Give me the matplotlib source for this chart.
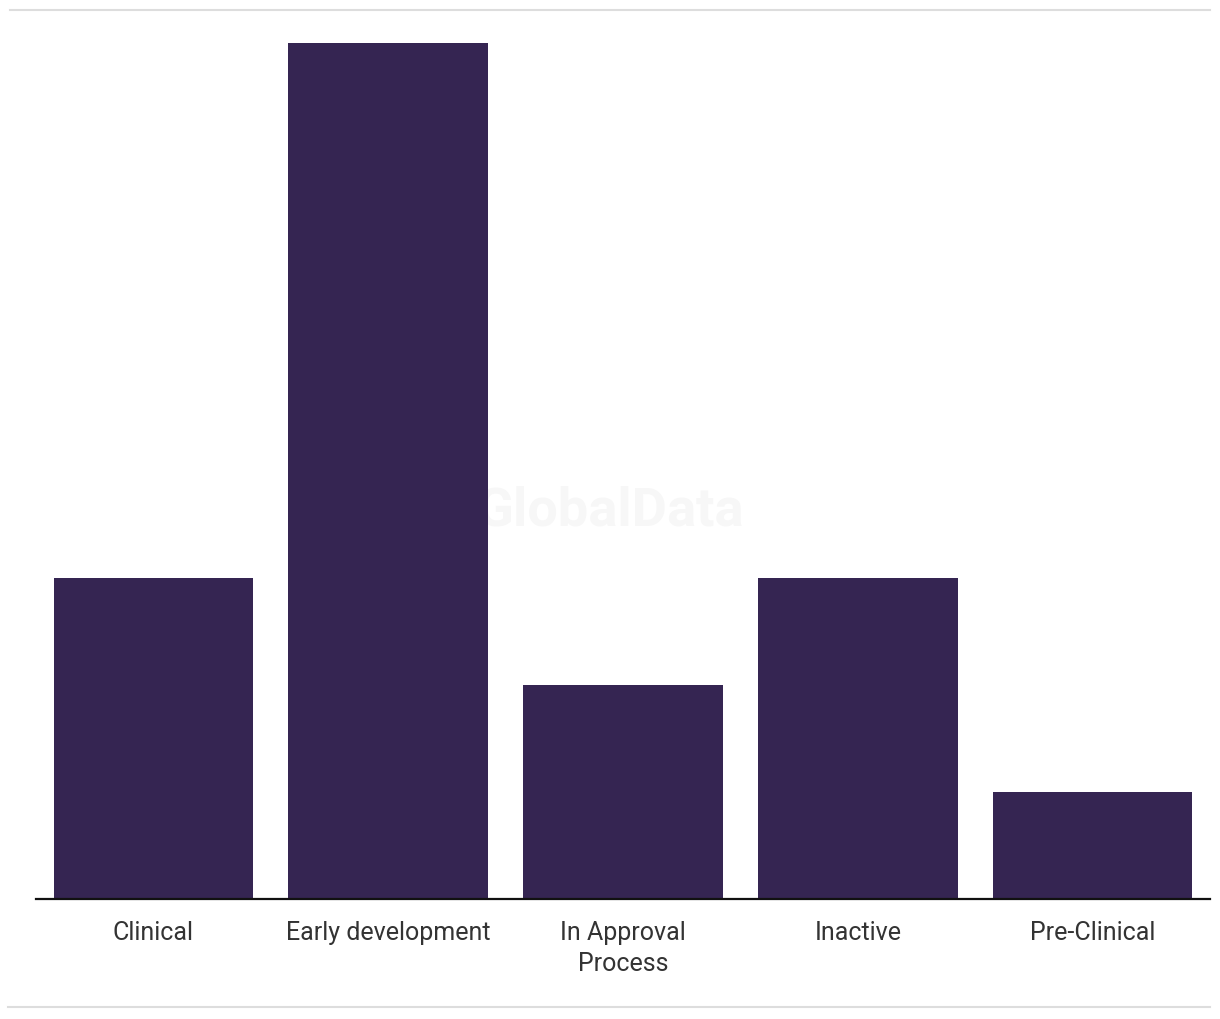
import matplotlib
matplotlib.use("Agg")
import matplotlib.pyplot as plt
from matplotlib.lines import Line2D

categories = ["Clinical", "Early development", "In Approval\nProcess", "Inactive", "Pre-Clinical"]
values = [3, 8, 2, 3, 1]

W, H = 1220, 1020
fig = plt.figure(figsize=(W / 100, H / 100), dpi=100)
ax = fig.add_axes([36 / W, (H - 900) / H, (1210 - 36) / W, (900 - 44) / H])

ax.text((610 - 36) / (1210 - 36), (900 - 511) / (900 - 44), "GlobalData", transform=ax.transAxes,
        ha="center", va="center", fontsize=39, fontweight="bold", color="#f7f7f7",
        family="Roboto", zorder=0)

ax.bar(range(len(categories)), values, width=0.85, color="#352552", zorder=2)
ax.set_xlim(-0.5, len(categories) - 0.5)
ax.set_ylim(0, 8)

for s in ["top", "right", "left"]:
    ax.spines[s].set_visible(False)
ax.spines["bottom"].set_color("#111111")
ax.spines["bottom"].set_linewidth(1.6)
ax.set_yticks([])
ax.set_xticks(range(len(categories)))
ax.set_xticklabels(categories, fontsize=18, color="#333333", family="Roboto",
                   linespacing=1.38)
ax.tick_params(axis="x", length=0, pad=15)

fig.add_artist(Line2D([10 / W, 1210 / W], [(H - 11) / H] * 2, color="#dddddd", lw=1.5))
fig.add_artist(Line2D([8 / W, 1210 / W], [(H - 1008) / H] * 2, color="#dddddd", lw=1.5))

fig.savefig("out.png", dpi=100)
